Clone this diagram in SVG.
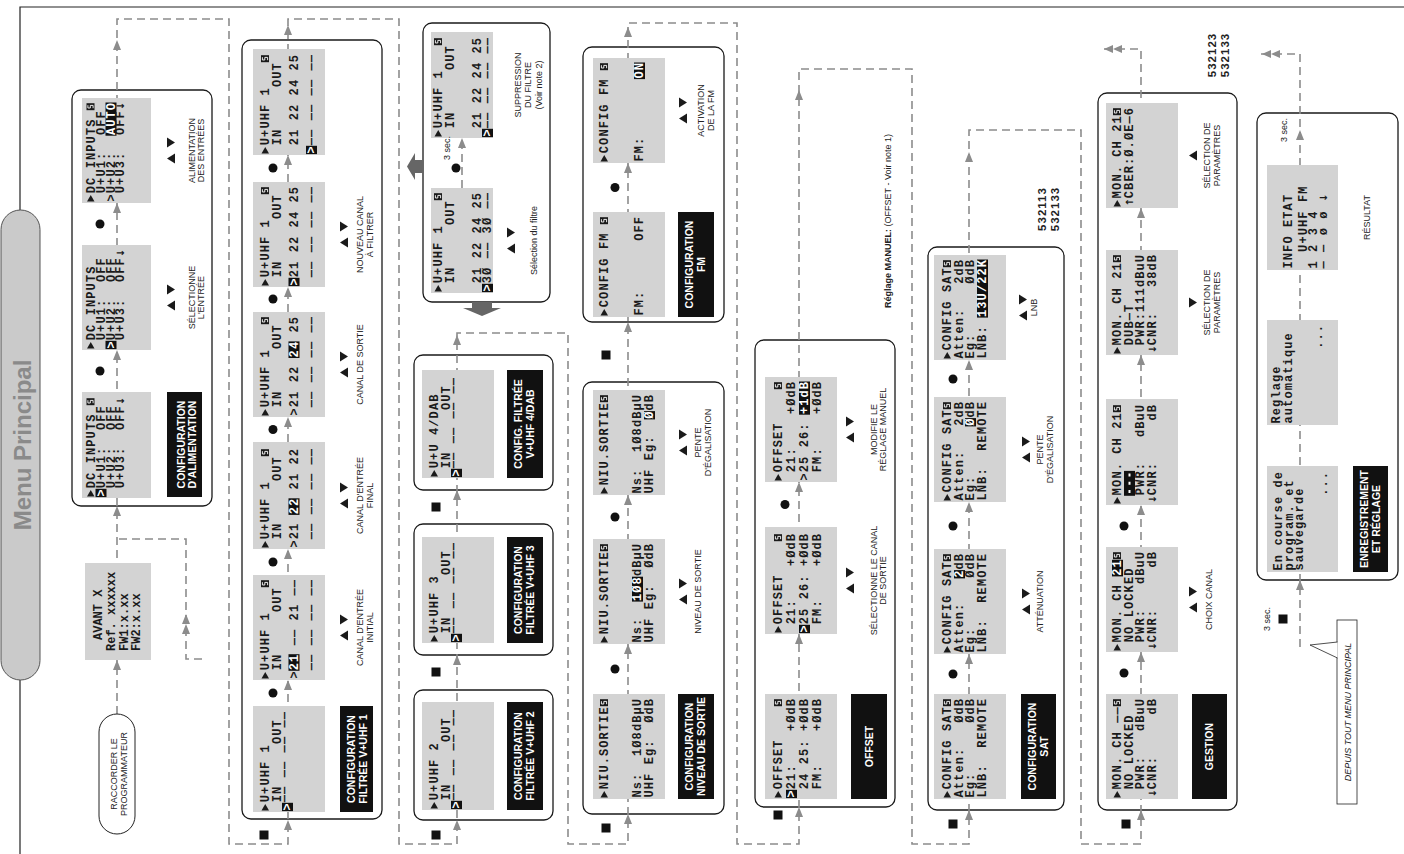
<svg xmlns="http://www.w3.org/2000/svg" width="1404" height="854" viewBox="0 0 1404 854" xml:space="preserve">
<style>
text{white-space:pre}
.frame{fill:none;stroke:#222;stroke-width:1.2}
.box{fill:#fff;stroke:#1a1a1a;stroke-width:1.3}
.scr{fill:#d3d3d3}
.lcd{font-family:"Liberation Mono",monospace;font-weight:700;font-size:12px;letter-spacing:1.1px;fill:#1a1a1a}
.sm{letter-spacing:0px}
.inv{fill:#fff}
.blk{fill:#111}
.arw{font-family:"DejaVu Sans",sans-serif;font-weight:700;font-size:10px;fill:#1a1a1a}
.lbl{font-family:"Liberation Sans",Arial,sans-serif;font-size:9px;fill:#222;text-anchor:middle}
.bt{font-family:"Liberation Sans",Arial,sans-serif;font-weight:700;font-size:10.5px;fill:#fff;text-anchor:middle}
.num{font-family:"Liberation Sans",Arial,sans-serif;font-weight:700;font-size:11.5px;fill:#222;text-anchor:middle;letter-spacing:1px}
.dash{fill:none;stroke:#8c8c8c;stroke-width:1.6;stroke-dasharray:8 5}
.dot{fill:#111}
</style>
<defs>
<path id="ah" d="M0,0L-10,-4L-10,4Z" fill="#8c8c8c"/>
<path id="ahl" d="M0,0L-4,9L4,9Z" fill="#8c8c8c"/>
<path id="pl" d="M0,-7.5L0,0L6.5,-3.75Z" fill="#1a1a1a"/>
<g id="sq"><rect x="0" y="-8" width="7" height="8" fill="#1a1a1a"/><path d="M5,-6.6H2.2V-4.2H4.8V-1.4H2" fill="none" stroke="#fff" stroke-width="0.9"/></g>
<path id="tu" d="M0,-4L5,4L-5,4Z" fill="#1a1a1a"/>
<path id="td" d="M0,4L5,-4L-5,-4Z" fill="#1a1a1a"/>
<rect id="sqb" x="-4.5" y="-4.5" width="9" height="9" fill="#111"/>
</defs>
<rect width="1404" height="854" fill="#fff"/>
<g transform="translate(0,854) rotate(-90)">
<path class="frame" d="M644,20H847V1404M174,20H0"/>
<g id="menu-principal"><rect x="174" y="1" width="470" height="39" rx="19.5" fill="#cacaca" stroke="#555" stroke-width="1"/><text x="409" y="31" font-family="Liberation Sans,Arial,sans-serif" font-weight="700" font-size="24" fill="#8a8a8a" text-anchor="middle">Menu Principal</text></g>

<g id="containers">
<rect id="box-dc" class="box" x="348" y="72" width="416" height="140" rx="9"/>
<rect id="box-v1" class="box" x="35" y="242" width="779" height="140" rx="9"/>
<rect id="box-v2" class="box" x="34" y="414" width="130" height="139" rx="9"/>
<rect id="box-v3" class="box" x="199" y="414" width="131" height="139" rx="9"/>
<rect id="box-v4" class="box" x="364" y="414" width="135" height="139" rx="9"/>
<rect id="box-filtre" class="box" x="552" y="423" width="279" height="127" rx="9"/>
<rect id="box-fm" class="box" x="532" y="583" width="275" height="141" rx="9"/>
<rect id="box-niv" class="box" x="40" y="583" width="432" height="141" rx="9"/>
<rect id="box-offset" class="box" x="47" y="755" width="467" height="140" rx="9"/>
<rect id="box-sat" class="box" x="44" y="928" width="563" height="136" rx="9"/>
<rect id="box-gestion" class="box" x="44" y="1098" width="717" height="139" rx="9"/>
<rect id="box-enreg" class="box" x="274" y="1257" width="467" height="141" rx="9"/>
</g>

<g id="connectors">
<path class="dash" d="M140,117H835V229H10V288H835V399H10V457H521V568H10V628H831V737H10V799H785V912H10V969H724V1081H10V1141H805V1099"/>
<path class="dash" d="M195,202V186H315V117"/>
<path class="dash" d="M666,462H716"/>
<path class="dash" d="M207,1300H800V1258"/>
<use href="#ah" x="194" y="117"/><use href="#ah" x="348" y="117"/><use href="#ah" x="504" y="117"/><use href="#ah" x="651" y="117"/><use href="#ah" x="814" y="117"/>
<use href="#ah" x="240" y="186"/><use href="#ah" x="230" y="186"/>
<use href="#ah" x="34" y="288"/><use href="#ah" x="174" y="288"/><use href="#ah" x="305" y="288"/><use href="#ah" x="437" y="288"/><use href="#ah" x="567" y="288"/><use href="#ah" x="699" y="288"/><use href="#ah" x="829" y="288"/>
<use href="#ah" x="34" y="457"/><use href="#ah" x="199" y="457"/><use href="#ah" x="364" y="457"/><use href="#ah" x="519" y="457"/>
<use href="#ah" x="716" y="462"/>
<use href="#ah" x="40" y="628"/><use href="#ah" x="210" y="628"/><use href="#ah" x="359" y="628"/><use href="#ah" x="532" y="628"/><use href="#ah" x="691" y="628"/><use href="#ah" x="827" y="628"/>
<use href="#ah" x="47" y="799"/><use href="#ah" x="220" y="799"/><use href="#ah" x="372" y="799"/><use href="#ah" x="764" y="799"/>
<use href="#ah" x="44" y="969"/><use href="#ah" x="200" y="969"/><use href="#ah" x="352" y="969"/><use href="#ah" x="494" y="969"/><use href="#ah" x="702" y="969"/>
<use href="#ah" x="44" y="1141"/><use href="#ah" x="202" y="1141"/><use href="#ah" x="349" y="1141"/><use href="#ah" x="499" y="1141"/><use href="#ah" x="646" y="1141"/>
<use href="#ahl" x="805" y="1104"/><use href="#ahl" x="805" y="1113"/>
<use href="#ah" x="274" y="1300"/><use href="#ah" x="724" y="1300"/>
<use href="#ahl" x="800" y="1262"/><use href="#ahl" x="800" y="1271"/>
<use href="#sqb" x="19" y="264"/><use href="#sqb" x="19" y="436"/><use href="#sqb" x="182" y="436"/><use href="#sqb" x="347" y="436"/>
<use href="#sqb" x="26" y="606"/><use href="#sqb" x="499" y="606"/><use href="#sqb" x="39" y="778"/><use href="#sqb" x="30" y="953"/><use href="#sqb" x="30" y="1126"/><use href="#sqb" x="235" y="1283"/>
<circle class="dot" cx="630" cy="100" r="4.5"/><circle class="dot" cx="483" cy="100" r="4.5"/>
<circle class="dot" cx="161" cy="273" r="4.5"/><circle class="dot" cx="292" cy="273" r="4.5"/><circle class="dot" cx="424.5" cy="273" r="4.5"/><circle class="dot" cx="555" cy="273" r="4.5"/><circle class="dot" cx="686" cy="273" r="4.5"/>
<circle class="dot" cx="185" cy="615" r="4.5"/><circle class="dot" cx="337" cy="615" r="4.5"/><circle class="dot" cx="666.5" cy="615" r="4.5"/>
<circle class="dot" cx="349.5" cy="785" r="4.5"/>
<circle class="dot" cx="180" cy="953" r="4.5"/><circle class="dot" cx="328" cy="953" r="4.5"/><circle class="dot" cx="475" cy="953" r="4.5"/>
<circle class="dot" cx="181" cy="1124" r="4.5"/><circle class="dot" cx="328" cy="1124" r="4.5"/>
<circle class="dot" cx="686" cy="456" r="4.5"/>
<path d="M687.5,407L701,415H694V423H681V415H674Z" fill="#666"/>
<path d="M538,482L546,463V472H552V492H546V501Z" fill="#666"/>
</g>

<g id="raccorder"><rect x="20" y="99" width="120" height="36" rx="18" fill="#fff" stroke="#222" stroke-width="1"/><text class="lbl" x="80" y="116.5" font-size="9.5">RACCORDER LE</text><text class="lbl" x="80" y="126.5" font-size="9.5">PROGRAMMATEUR</text></g>
<g id="avant" transform="translate(194,85)"><rect class="scr" width="97" height="66"/><text class="lcd sm" x="20" y="17">AVANT X</text><text class="lcd sm" x="9" y="30">Ref. xxxxxx</text><text class="lcd sm" x="9" y="43">FW1:x.xx</text><text class="lcd sm" x="9" y="55">FW2:x.xx</text></g>

<g id="dc1" transform="translate(356,82)"><rect class="scr" width="106" height="69"/><use href="#pl" x="1.5" y="12.5"/><text class="lcd" x="9.8" y="12.5">DC INPUTS</text><use href="#sq" x="92.8" y="12.5"/><rect class="blk" x="0.9" y="13.5" width="8.3" height="11"/><text class="lcd inv" x="1.5" y="22.5">&gt;</text><text class="lcd" x="9.8" y="22.5">U+U1:  OFF</text><text class="lcd" x="9.8" y="32.5">U+U2:  OFF</text><text class="lcd" x="9.8" y="42">U+U3:  OFF</text><text class="arw" x="92.8" y="42">↓</text></g>
<g id="dc1-label"><rect class="blk" x="357" y="167" width="105" height="35"/><text class="bt" x="409.5" y="184.5">CONFIGURATION</text><text class="bt" x="409.5" y="195.5">D'ALIMENTATION</text></g>
<g id="dc2" transform="translate(504,82)"><rect class="scr" width="105" height="69"/><use href="#pl" x="1.5" y="12.5"/><text class="lcd" x="9.8" y="12.5">DC INPUTS</text><text class="lcd" x="9.8" y="22.5">U+U1:  OFF</text><rect class="blk" x="0.9" y="23.5" width="8.3" height="11"/><text class="lcd inv" x="1.5" y="32.5">&gt;</text><text class="lcd" x="9.8" y="32.5">U+U2:  OFF</text><text class="lcd" x="9.8" y="42">U+U3:  OFF</text><text class="arw" x="92.8" y="42">↓</text>
<use href="#tu" x="44.5" y="89"/><use href="#td" x="60.5" y="89"/><text class="lbl" x="52.5" y="113">SÉLECTIONNE</text><text class="lbl" x="52.5" y="122">L'ENTRÉE</text></g>
<g id="dc3" transform="translate(651,82)"><rect class="scr" width="105" height="69"/><use href="#pl" x="1.5" y="12.5"/><text class="lcd" x="9.8" y="12.5">DC INPUTS</text><use href="#sq" x="92.8" y="12.5"/><text class="lcd" x="9.8" y="22.5">U+U1:  OFF</text><text class="lcd" x="1.5" y="32.5">&gt;U+U2:</text><rect class="blk" x="67.3" y="23.5" width="33.2" height="11"/><text class="lcd inv" x="67.9" y="32.5">AUTO</text><text class="lcd" x="9.8" y="42">U+U3:  OFF</text><text class="arw" x="92.8" y="42">↓</text>
<use href="#tu" x="44.5" y="89"/><use href="#td" x="60.5" y="89"/><text class="lbl" x="52.5" y="113">ALIMENTATION</text><text class="lbl" x="52.5" y="122">DES ENTRÉES</text></g>

<g id="v1-s1" transform="translate(42,253)"><rect class="scr" width="106" height="72"/><use href="#pl" x="1.5" y="16"/><text class="lcd" x="9.8" y="16">U+UHF 1</text><text class="lcd" x="9.8" y="28">IN     OUT</text><rect class="blk" x="0.9" y="29" width="8.3" height="11"/><text class="lcd inv" x="1.5" y="38">&gt;</text><text class="lcd" x="9.8" y="35">—— —— —— ——</text></g>
<g id="v1-label"><rect class="blk" x="42" y="340" width="106" height="33"/><text class="bt" x="95" y="355">CONFIGURATION</text><text class="bt" x="95" y="366.5">FILTRÉE V+UHF 1</text></g>
<g id="v1-s2" transform="translate(174,253)"><rect class="scr" width="105" height="72"/><use href="#pl" x="1.5" y="16"/><text class="lcd" x="9.8" y="16">U+UHF 1</text><use href="#sq" x="92.8" y="16"/><text class="lcd" x="9.8" y="28">IN     OUT</text><text class="lcd" x="1.5" y="44.5">&gt;</text><rect class="blk" x="9.2" y="35.5" width="16.6" height="11"/><text class="lcd inv" x="9.8" y="44.5">21</text><text class="lcd" x="34.7" y="44.5">—— 21 ——</text><text class="lcd" x="9.8" y="62">—— —— —— ——</text>
<use href="#tu" x="44.5" y="91"/><use href="#td" x="60.5" y="91"/><text class="lbl" x="52.5" y="110">CANAL D'ENTRÉE</text><text class="lbl" x="52.5" y="120">INITIAL</text></g>
<g id="v1-s3" transform="translate(305,253)"><rect class="scr" width="107" height="72"/><use href="#pl" x="1.5" y="16"/><text class="lcd" x="9.8" y="16">U+UHF 1</text><use href="#sq" x="92.8" y="16"/><text class="lcd" x="9.8" y="28">IN     OUT</text><text class="lcd" x="1.5" y="44.5">&gt;21</text><rect class="blk" x="34.1" y="35.5" width="16.6" height="11"/><text class="lcd inv" x="34.7" y="44.5">22</text><text class="lcd" x="59.6" y="44.5">21 22</text><text class="lcd" x="9.8" y="62">—— —— —— ——</text>
<use href="#tu" x="45.5" y="91"/><use href="#td" x="61.5" y="91"/><text class="lbl" x="53.5" y="110">CANAL D'ENTRÉE</text><text class="lbl" x="53.5" y="120">FINAL</text></g>
<g id="v1-s4" transform="translate(437,253)"><rect class="scr" width="105" height="72"/><use href="#pl" x="1.5" y="16"/><text class="lcd" x="9.8" y="16">U+UHF 1</text><use href="#sq" x="92.8" y="16"/><text class="lcd" x="9.8" y="28">IN     OUT</text><text class="lcd" x="1.5" y="44.5">&gt;21 22</text><rect class="blk" x="59" y="35.5" width="16.6" height="11"/><text class="lcd inv" x="59.6" y="44.5">24</text><text class="lcd" x="84.5" y="44.5">25</text><text class="lcd" x="9.8" y="62">—— —— —— ——</text>
<use href="#tu" x="44.5" y="91"/><use href="#td" x="60.5" y="91"/><text class="lbl" x="52.5" y="110">CANAL DE SORTIE</text></g>
<g id="v1-s5" transform="translate(567,253)"><rect class="scr" width="105" height="72"/><use href="#pl" x="1.5" y="16"/><text class="lcd" x="9.8" y="16">U+UHF 1</text><use href="#sq" x="92.8" y="16"/><text class="lcd" x="9.8" y="28">IN     OUT</text><rect class="blk" x="0.9" y="35.5" width="8.3" height="11"/><text class="lcd inv" x="1.5" y="44.5">&gt;</text><text class="lcd" x="9.8" y="44.5">21 22 24 25</text><text class="lcd" x="9.8" y="62">—— —— —— ——</text>
<use href="#tu" x="44.5" y="91"/><use href="#td" x="60.5" y="91"/><text class="lbl" x="52.5" y="110">NOUVEAU CANAL</text><text class="lbl" x="52.5" y="120">À FILTRER</text></g>
<g id="v1-s6" transform="translate(699,253)"><rect class="scr" width="106" height="72"/><use href="#pl" x="1.5" y="16"/><text class="lcd" x="9.8" y="16">U+UHF 1</text><use href="#sq" x="92.8" y="16"/><text class="lcd" x="9.8" y="28">IN     OUT</text><text class="lcd" x="9.8" y="44.5">21 22 24 25</text><rect class="blk" x="0.9" y="53" width="8.3" height="11"/><text class="lcd inv" x="1.5" y="62">&gt;</text><text class="lcd" x="9.8" y="62">—— —— —— ——</text></g>

<g id="v2" transform="translate(44,422)"><rect class="scr" width="108" height="72"/><use href="#pl" x="1.5" y="16"/><text class="lcd" x="9.8" y="16">U+UHF 2</text><text class="lcd" x="9.8" y="28">IN     OUT</text><rect class="blk" x="0.9" y="29" width="8.3" height="11"/><text class="lcd inv" x="1.5" y="38">&gt;</text><text class="lcd" x="9.8" y="35">—— —— —— ——</text>
<rect class="blk" x="0" y="85" width="108" height="36"/><text class="bt" x="54" y="100">CONFIGURATION</text><text class="bt" x="54" y="112">FILTRÉE V+UHF 2</text></g>
<g id="v3" transform="translate(211,422)"><rect class="scr" width="106" height="72"/><use href="#pl" x="1.5" y="16"/><text class="lcd" x="9.8" y="16">U+UHF 3</text><text class="lcd" x="9.8" y="28">IN     OUT</text><rect class="blk" x="0.9" y="29" width="8.3" height="11"/><text class="lcd inv" x="1.5" y="38">&gt;</text><text class="lcd" x="9.8" y="35">—— —— —— ——</text>
<rect class="blk" x="0" y="85" width="106" height="36"/><text class="bt" x="53" y="100">CONFIGURATION</text><text class="bt" x="53" y="112">FILTRÉE V+UHF 3</text></g>
<g id="v4" transform="translate(376,422)"><rect class="scr" width="108" height="72"/><use href="#pl" x="1.5" y="16"/><text class="lcd" x="9.8" y="16">U+U 4/DAB</text><text class="lcd" x="9.8" y="28">IN     OUT</text><rect class="blk" x="0.9" y="29" width="8.3" height="11"/><text class="lcd inv" x="1.5" y="38">&gt;</text><text class="lcd" x="9.8" y="35">—— —— —— ——</text>
<rect class="blk" x="0" y="85" width="108" height="36"/><text class="bt" x="54" y="100">CONFIG. FILTRÉE</text><text class="bt" x="54" y="112">V+UHF 4/DAB</text></g>

<g id="filtre-sel" transform="translate(561,431)"><rect class="scr" width="105" height="62"/><use href="#pl" x="1.5" y="11"/><text class="lcd" x="9.8" y="11">U+UHF 1</text><use href="#sq" x="92.8" y="11"/><text class="lcd" x="9.8" y="23">IN     OUT</text><text class="lcd" x="9.8" y="50">21 22 24 25</text><rect class="blk" x="0.9" y="51" width="8.3" height="11"/><text class="lcd inv" x="1.5" y="60">&gt;</text><text class="lcd" x="9.8" y="60">3Ø —— 3Ø ——</text>
<use href="#tu" x="44.5" y="80"/><use href="#td" x="60.5" y="80"/><text class="lbl" x="52.5" y="106">Sélection du filtre</text></g>
<g id="filtre-sup" transform="translate(716,431)"><rect class="scr" width="106" height="62"/><use href="#pl" x="1.5" y="11"/><text class="lcd" x="9.8" y="11">U+UHF 1</text><use href="#sq" x="92.8" y="11"/><text class="lcd" x="9.8" y="23">IN     OUT</text><text class="lcd" x="9.8" y="50">21 22 24 25</text><rect class="blk" x="0.9" y="51" width="8.3" height="11"/><text class="lcd inv" x="1.5" y="60">&gt;</text><text class="lcd" x="9.8" y="60">—— —— —— ——</text>
<text class="lbl" x="53" y="90">SUPPRESSION</text><text class="lbl" x="53" y="100">DU FILTRE</text><text class="lbl" x="53" y="111">(Voir note 2)</text></g>
<text class="lbl" x="706" y="450">3 sec.</text>

<g id="fm1" transform="translate(537,593)"><rect class="scr" width="105" height="72"/><use href="#pl" x="1.5" y="15"/><text class="lcd" x="9.8" y="15">CONFIG FM</text><use href="#sq" x="92.8" y="15"/><text class="lcd" x="1.5" y="50">FM:</text><text class="lcd" x="76.2" y="50">OFF</text>
<rect class="blk" x="0" y="85" width="105" height="36"/><text class="bt" x="52.5" y="100">CONFIGURATION</text><text class="bt" x="52.5" y="112">FM</text></g>
<g id="fm2" transform="translate(691,593)"><rect class="scr" width="105" height="72"/><use href="#pl" x="1.5" y="15"/><text class="lcd" x="9.8" y="15">CONFIG FM</text><use href="#sq" x="92.8" y="15"/><text class="lcd" x="1.5" y="50">FM:</text><rect class="blk" x="83.9" y="41" width="16.6" height="11"/><text class="lcd inv" x="84.5" y="50">ON</text>
<use href="#tu" x="44.5" y="90"/><use href="#td" x="60.5" y="90"/><text class="lbl" x="52.5" y="111">ACTIVATION</text><text class="lbl" x="52.5" y="121">DE LA FM</text></g>

<g id="niv1" transform="translate(55,593)"><rect class="scr" width="105" height="72"/><use href="#pl" x="1.5" y="15"/><text class="lcd" x="9.8" y="15">NIU.SORTIE</text><use href="#sq" x="92.8" y="15"/><text class="lcd" x="1.5" y="48">Ns:  1Ø8dBµU</text><text class="lcd" x="1.5" y="60">UHF Eg:  ØdB</text>
<rect class="blk" x="0" y="85" width="105" height="36"/><text class="bt" x="52.5" y="100">CONFIGURATION</text><text class="bt" x="52.5" y="112">NIVEAU DE SORTIE</text></g>
<g id="niv2" transform="translate(210,593)"><rect class="scr" width="105" height="72"/><use href="#pl" x="1.5" y="15"/><text class="lcd" x="9.8" y="15">NIU.SORTIE</text><use href="#sq" x="92.8" y="15"/><text class="lcd" x="1.5" y="48">Ns:</text><rect class="blk" x="42.4" y="39" width="24.9" height="11"/><text class="lcd inv" x="43" y="48">1Ø8</text><text class="lcd" x="67.9" y="48">dBµU</text><text class="lcd" x="1.5" y="60">UHF Eg:  ØdB</text>
<use href="#tu" x="44.5" y="90"/><use href="#td" x="60.5" y="90"/><text class="lbl" x="52.5" y="108">NIVEAU DE SORTIE</text></g>
<g id="niv3" transform="translate(359,593)"><rect class="scr" width="105" height="72"/><use href="#pl" x="1.5" y="15"/><text class="lcd" x="9.8" y="15">NIU.SORTIE</text><use href="#sq" x="92.8" y="15"/><text class="lcd" x="1.5" y="48">Ns:  1Ø8dBµU</text><text class="lcd" x="1.5" y="60">UHF Eg:</text><rect class="blk" x="75.6" y="51" width="8.3" height="11"/><text class="lcd inv" x="76.2" y="60">Ø</text><text class="lcd" x="84.5" y="60">dB</text>
<use href="#tu" x="44.5" y="90"/><use href="#td" x="60.5" y="90"/><text class="lbl" x="52.5" y="108">PENTE</text><text class="lbl" x="52.5" y="118">D'ÉGALISATION</text></g>

<g id="off1" transform="translate(55,765)"><rect class="scr" width="105" height="72"/><use href="#pl" x="1.5" y="17"/><text class="lcd" x="9.8" y="17">OFFSET</text><use href="#sq" x="92.8" y="17"/><rect class="blk" x="0.9" y="21" width="8.3" height="11"/><text class="lcd inv" x="1.5" y="30">&gt;</text><text class="lcd" x="9.8" y="30">21:    +ØdB</text><text class="lcd" x="9.8" y="43">24 25: +ØdB</text><text class="lcd" x="9.8" y="56">FM:    +ØdB</text>
<rect class="blk" x="0" y="86" width="105" height="36"/><text class="bt" x="52.5" y="108">OFFSET</text></g>
<g id="off2" transform="translate(220,765)"><rect class="scr" width="107" height="72"/><use href="#pl" x="1.5" y="17"/><text class="lcd" x="9.8" y="17">OFFSET</text><use href="#sq" x="92.8" y="17"/><text class="lcd" x="9.8" y="30">21:    +ØdB</text><rect class="blk" x="0.9" y="34" width="8.3" height="11"/><text class="lcd inv" x="1.5" y="43">&gt;</text><text class="lcd" x="9.8" y="43">25 26: +ØdB</text><text class="lcd" x="9.8" y="56">FM:    +ØdB</text>
<use href="#tu" x="45.5" y="85"/><use href="#td" x="61.5" y="85"/><text class="lbl" x="53.5" y="112">SÉLECTIONNE LE CANAL</text><text class="lbl" x="53.5" y="121">DE SORTIE</text></g>
<g id="off3" transform="translate(372,765)"><rect class="scr" width="105" height="72"/><use href="#pl" x="1.5" y="17"/><text class="lcd" x="9.8" y="17">OFFSET</text><use href="#sq" x="92.8" y="17"/><text class="lcd" x="9.8" y="30">21:    +ØdB</text><text class="lcd" x="1.5" y="43">&gt;25 26:</text><rect class="blk" x="67.3" y="34" width="33.2" height="11"/><text class="lcd inv" x="67.9" y="43">+1dB</text><text class="lcd" x="9.8" y="56">FM:    +ØdB</text>
<use href="#tu" x="44.5" y="85"/><use href="#td" x="60.5" y="85"/><text class="lbl" x="52.5" y="112">MODIFIE LE</text><text class="lbl" x="52.5" y="121">RÉGLAGE MANUEL</text></g>
<text class="lbl" x="633" y="891" font-size="9.5"><tspan font-weight="700">Réglage MANUEL:</tspan> (OFFSET - Voir note 1)</text>

<g id="sat1" transform="translate(55,934)"><rect class="scr" width="105" height="72"/><use href="#pl" x="1.5" y="17"/><text class="lcd" x="9.8" y="17">CONFIG SAT</text><use href="#sq" x="92.8" y="17"/><text class="lcd" x="1.5" y="29">Atten:   ØdB</text><text class="lcd" x="1.5" y="40">Eg:      ØdB</text><text class="lcd" x="1.5" y="52">LNB:  REMOTE</text>
<rect class="blk" x="0" y="87" width="105" height="35"/><text class="bt" x="52.5" y="102">CONFIGURATION</text><text class="bt" x="52.5" y="114">SAT</text></g>
<g id="sat2" transform="translate(200,934)"><rect class="scr" width="105" height="72"/><use href="#pl" x="1.5" y="17"/><text class="lcd" x="9.8" y="17">CONFIG SAT</text><use href="#sq" x="92.8" y="17"/><text class="lcd" x="1.5" y="29">Atten:</text><rect class="blk" x="75.6" y="20" width="8.3" height="11"/><text class="lcd inv" x="76.2" y="29">2</text><text class="lcd" x="84.5" y="29">dB</text><text class="lcd" x="1.5" y="40">Eg:      ØdB</text><text class="lcd" x="1.5" y="52">LNB:  REMOTE</text>
<use href="#tu" x="44.5" y="92"/><use href="#td" x="60.5" y="92"/><text class="lbl" x="52.5" y="109">ATTÉNUATION</text></g>
<g id="sat3" transform="translate(352,934)"><rect class="scr" width="105" height="72"/><use href="#pl" x="1.5" y="17"/><text class="lcd" x="9.8" y="17">CONFIG SAT</text><use href="#sq" x="92.8" y="17"/><text class="lcd" x="1.5" y="29">Atten:   2dB</text><text class="lcd" x="1.5" y="40">Eg:</text><rect class="blk" x="75.6" y="31" width="8.3" height="11"/><text class="lcd inv" x="76.2" y="40">Ø</text><text class="lcd" x="84.5" y="40">dB</text><text class="lcd" x="1.5" y="52">LNB:  REMOTE</text>
<use href="#tu" x="44.5" y="92"/><use href="#td" x="60.5" y="92"/><text class="lbl" x="52.5" y="109">PENTE</text><text class="lbl" x="52.5" y="119">D'ÉGALISATION</text></g>
<g id="sat4" transform="translate(494,934)"><rect class="scr" width="105" height="72"/><use href="#pl" x="1.5" y="17"/><text class="lcd" x="9.8" y="17">CONFIG SAT</text><use href="#sq" x="92.8" y="17"/><text class="lcd" x="1.5" y="29">Atten:   2dB</text><text class="lcd" x="1.5" y="40">Eg:      ØdB</text><text class="lcd" x="1.5" y="52">LNB:</text><rect class="blk" x="42.4" y="43" width="58.1" height="11"/><text class="lcd inv" x="43" y="52">13U/22K</text>
<use href="#tu" x="44.5" y="89"/><use href="#td" x="60.5" y="89"/><text class="lbl" x="52.5" y="103">LNB</text></g>
<text class="num" x="645" y="1046">532113</text><text class="num" x="645" y="1059">532133</text>

<g id="ges1" transform="translate(55,1106)"><rect class="scr" width="105" height="72"/><use href="#pl" x="1.5" y="15"/><text class="lcd" x="9.8" y="15">MON. CH ——</text><use href="#sq" x="92.8" y="15"/><text class="lcd" x="9.8" y="27">NO LOCKED</text><text class="lcd" x="9.8" y="38">PWR:   dBuU</text><text class="arw" x="1.5" y="50">↓</text><text class="lcd" x="9.8" y="50">CNR:     dB</text>
<rect class="blk" x="0" y="86" width="105" height="35"/><text class="bt" x="52.5" y="107">GESTION</text></g>
<g id="ges2" transform="translate(202,1106)"><rect class="scr" width="105" height="72"/><use href="#pl" x="1.5" y="15"/><text class="lcd" x="9.8" y="15">MON. CH</text><rect class="blk" x="75.6" y="6" width="16.6" height="11"/><text class="lcd inv" x="76.2" y="15">21</text><use href="#sq" x="92.8" y="15"/><text class="lcd" x="9.8" y="27">NO LOCKED</text><text class="lcd" x="9.8" y="38">PWR:   dBuU</text><text class="arw" x="1.5" y="50">↓</text><text class="lcd" x="9.8" y="50">CNR:     dB</text>
<use href="#tu" x="44.5" y="87"/><use href="#td" x="60.5" y="87"/><text class="lbl" x="52.5" y="106">CHOIX CANAL</text></g>
<g id="ges3" transform="translate(349,1106)"><rect class="scr" width="106" height="72"/><use href="#pl" x="1.5" y="15"/><text class="lcd" x="9.8" y="15">MON. CH 21</text><use href="#sq" x="92.8" y="15"/><rect class="blk" x="9.2" y="18" width="24.9" height="11"/><path d="M12,23.5h3M20.3,23.5h3M28.6,23.5h3" stroke="#fff" stroke-width="2"/><text class="lcd" x="9.8" y="38">PWR:   dBuU</text><text class="arw" x="1.5" y="50">↓</text><text class="lcd" x="9.8" y="50">CNR:     dB</text></g>
<g id="ges4" transform="translate(499,1106)"><rect class="scr" width="105" height="72"/><use href="#pl" x="1.5" y="15"/><text class="lcd" x="9.8" y="15">MON. CH 21</text><use href="#sq" x="92.8" y="15"/><text class="lcd" x="9.8" y="27">DUB—T</text><text class="lcd" x="9.8" y="38">PWR:111dBuU</text><text class="arw" x="1.5" y="50">↓</text><text class="lcd" x="9.8" y="50">CNR:   38dB</text>
<use href="#td" x="52.5" y="87"/><text class="lbl" x="52.5" y="104">SÉLECTION DE</text><text class="lbl" x="52.5" y="114">PARAMÈTRES</text></g>
<g id="ges5" transform="translate(646,1106)"><rect class="scr" width="105" height="72"/><use href="#pl" x="1.5" y="15"/><text class="lcd" x="9.8" y="15">MON. CH 21</text><use href="#sq" x="92.8" y="15"/><text class="arw" x="1.5" y="27">↑</text><text class="lcd" x="9.8" y="27">CBER:Ø.ØE—6</text>
<use href="#tu" x="52.5" y="87"/><text class="lbl" x="52.5" y="104">SÉLECTION DE</text><text class="lbl" x="52.5" y="114">PARAMÈTRES</text></g>
<text class="num" x="799" y="1216">532123</text><text class="num" x="799" y="1229">532133</text>

<g id="enr1" transform="translate(282,1267)"><rect class="scr" width="106" height="71"/><text class="lcd" x="1.5" y="15">En course de</text><text class="lcd" x="1.5" y="26">program. et</text><text class="lcd" x="1.5" y="36">sauvegarde</text><text class="lcd" x="76.2" y="60">...</text>
<rect class="blk" x="0" y="86" width="106" height="35"/><text class="bt" x="53" y="101">ENREGISTREMENT</text><text class="bt" x="53" y="113">ET RÉGLAGE</text></g>
<g id="enr2" transform="translate(429,1267)"><rect class="scr" width="105" height="71"/><text class="lcd" x="1.5" y="13">Reglage</text><text class="lcd" x="1.5" y="25">automatique</text><text class="lcd" x="76.2" y="55">...</text></g>
<g id="enr3" transform="translate(584,1267)"><rect class="scr" width="105" height="71"/><text class="lcd" x="1.5" y="25">INFO ETAT</text><text class="lcd" x="18.1" y="40">U+UHF FM</text><text class="lcd" x="1.5" y="50">1 2 3 4</text><text class="lcd" x="1.5" y="60">— — ø ø</text><text class="arw" x="67.9" y="60">↓</text>
<text class="lbl" x="52.5" y="103">RÉSULTAT</text></g>
<text class="lbl" x="724" y="1287">3 sec.</text><text class="lbl" x="235" y="1270">3 sec.</text>
<g id="callout"><rect x="50" y="1337" width="184" height="20" fill="#fff" stroke="#222" stroke-width="0.8"/><path d="M196,1337.5L209,1310L212,1337.5" fill="#fff" stroke="#222" stroke-width="0.8"/><text class="lbl" x="142" y="1350.5" font-style="italic">DEPUIS TOUT MENU PRINCIPAL</text></g>
</g>
</svg>
